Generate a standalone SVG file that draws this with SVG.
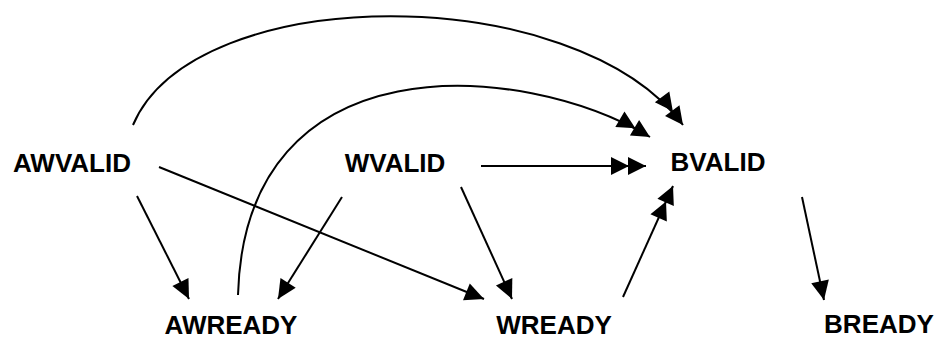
<svg xmlns="http://www.w3.org/2000/svg" width="948" height="340" viewBox="0 0 948 340">
<style>
.lbl{font-family:"Liberation Sans",Arial,sans-serif;font-weight:bold;font-size:26px;fill:#000;text-anchor:middle}
.e{fill:none;stroke:#000;stroke-width:2}
.s{marker-end:url(#a1)}
.d{marker-end:url(#a2)}
</style>
<defs>
<marker id="a1" markerUnits="userSpaceOnUse" markerWidth="20" markerHeight="20" refX="19" refY="9" orient="auto" overflow="visible">
<path d="M0,0 L19,9 L0,18 z" fill="#000"/>
</marker>
<marker id="a2" markerUnits="userSpaceOnUse" markerWidth="36" markerHeight="20" refX="35" refY="9" orient="auto" overflow="visible">
<path d="M0,0 L18,9 L0,18 z M17,0 L35,9 L17,18 z" fill="#000"/>
</marker>
</defs>
<rect width="948" height="340" fill="#fff"/>
<g id="connectors">
<path class="e s" d="M137,196 L189,299"/>
<path class="e s" d="M342,197 L278,299"/>
<path class="e d" d="M238,295 C245,40 520,60 650,137"/>
<path class="e d" d="M133,125 C195,-20 575,-20 683,125"/>
<path class="e s" d="M159,167 L484,299"/>
<path class="e s" d="M461,187 L512,299"/>
<path class="e d" d="M481,166 L646,166"/>
<path class="e d" d="M623,297 L673,186"/>
<path class="e s" d="M802,197 L824,300"/>
</g>
<g id="AWVALID"><text class="lbl" x="72" y="172">AWVALID</text></g>
<g id="WVALID"><text class="lbl" x="395" y="172">WVALID</text></g>
<g id="BVALID"><text class="lbl" x="718" y="171">BVALID</text></g>
<g id="AWREADY"><text class="lbl" x="231" y="334">AWREADY</text></g>
<g id="WREADY"><text class="lbl" x="554" y="334">WREADY</text></g>
<g id="BREADY"><text class="lbl" x="879" y="333">BREADY</text></g>
</svg>
